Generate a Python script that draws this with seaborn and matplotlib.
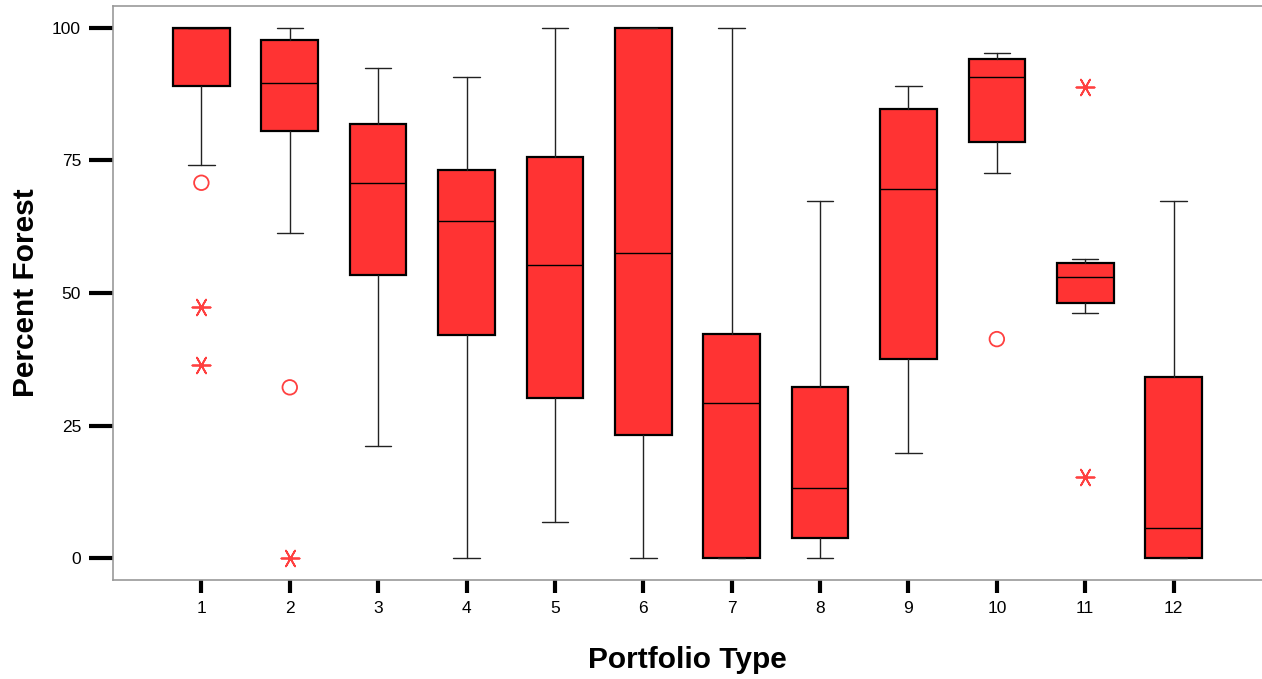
import matplotlib
matplotlib.use("Agg")
import matplotlib.pyplot as plt
import seaborn as sns

# Box statistics (Percent Forest by Portfolio Type)
groups = [1, 2, 3, 4, 5, 6, 7, 8, 9, 10, 11, 12]
q1 = [89.1, 80.5, 53.4, 42.1, 30.1, 23.3, 0.0, 3.7, 37.5, 78.5, 48.1, 0.0]
medians = [100.0, 89.6, 70.8, 63.6, 55.3, 57.5, 29.3, 13.2, 69.6, 90.7, 53.1, 5.6]
q3 = [100.0, 97.7, 81.9, 73.3, 75.7, 100.0, 42.2, 32.3, 84.7, 94.1, 55.7, 34.2]
whisker_low = [74.2, 61.4, 21.1, 0.0, 6.7, 0.0, 0.0, 0.0, 19.9, 72.6, 46.2, 0.0]
whisker_high = [100.0, 100.0, 92.5, 90.7, 100.0, 100.0, 100.0, 67.4, 89.1, 95.2, 56.5, 67.4]

# outliers (circles) and extremes (stars)
outlier_group = [1, 2, 10]
outlier_value = [70.8, 32.2, 41.3]
extreme_group = [1, 1, 2, 11, 11]
extreme_value = [47.4, 36.4, 0.0, 88.8, 15.2]

sns.set_style("white")
plt.rcParams['font.family'] = ['Liberation Sans', 'DejaVu Sans']
plt.rcParams['text.color'] = 'black'
plt.rcParams['axes.labelcolor'] = 'black'
plt.rcParams['xtick.color'] = 'black'
plt.rcParams['ytick.color'] = 'black'

fig = plt.figure(figsize=(12.62, 6.79), dpi=100)
ax = fig.add_axes([113 / 1262, 99 / 679, 1149 / 1262, 574 / 679])

stats = []
for i in range(len(groups)):
    stats.append({
        'q1': q1[i], 'med': medians[i], 'q3': q3[i],
        'whislo': whisker_low[i], 'whishi': whisker_high[i],
        'fliers': [], 'label': str(groups[i]),
    })

ax.bxp(stats, positions=groups, widths=0.64, capwidths=0.3,
       showfliers=False, patch_artist=True,
       boxprops=dict(facecolor='#ff3333', edgecolor='black', linewidth=1.6),
       medianprops=dict(color='black', linewidth=1.0),
       whiskerprops=dict(color='#222222', linewidth=1.0),
       capprops=dict(color='#222222', linewidth=1.0))

ax.scatter(outlier_group, outlier_value, marker='o', s=110,
           facecolors='none', edgecolors='#ff4040', linewidths=1.3, zorder=3)
# six-spoke asterisk with a horizontal bar, like the SPSS extreme marker
ax.scatter(extreme_group, extreme_value, marker=(6, 2, 30), s=170,
           color='#ff4040', linewidths=1.3, zorder=3)

ax.set_xlim(0, 13)
ax.set_ylim(-4.15, 104.15)
ax.set_yticks([0, 25, 50, 75, 100])
ax.set_xticks(groups)
ax.set_xticklabels([str(g) for g in groups])

for side in ['left', 'bottom', 'top']:
    ax.spines[side].set_color('#999999')
    ax.spines[side].set_linewidth(1.2)
ax.spines['right'].set_visible(False)

ax.tick_params(axis='y', length=17, width=3, color='black', labelcolor='black',
               direction='out', pad=6, labelsize=12.5, left=True)
ax.tick_params(axis='x', length=9, width=3, color='black', labelcolor='black',
               direction='out', pad=6, labelsize=12.5, bottom=True)

ax.set_xlabel('Portfolio Type', fontsize=21.5, fontweight='bold', labelpad=22,
              color='black')
ax.set_ylabel('Percent Forest', fontsize=21.5, fontweight='bold', labelpad=9,
              color='black')

fig.savefig('out.png', dpi=100)
